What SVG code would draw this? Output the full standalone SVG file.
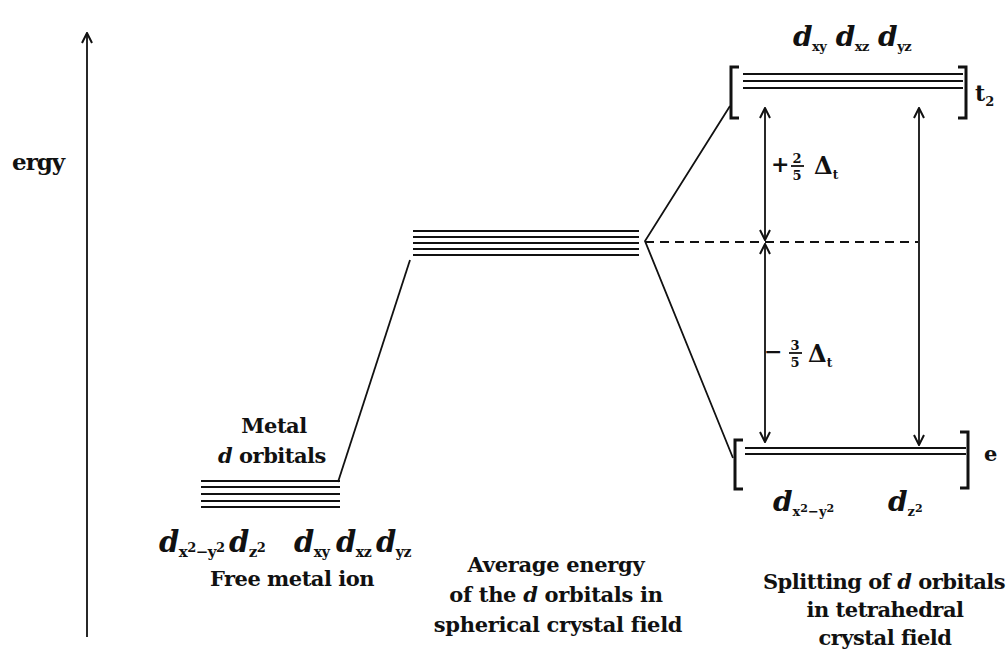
<svg xmlns="http://www.w3.org/2000/svg" width="1007" height="661" viewBox="0 0 1007 661">
<defs>
<marker id="ah" viewBox="0 0 12 12" refX="11" refY="6" markerWidth="12" markerHeight="12" markerUnits="userSpaceOnUse" orient="auto-start-reverse">
<path d="M1,1 L11,6 L1,11" fill="none" stroke="#111" stroke-width="2"/>
</marker>
</defs>
<style>
.t{font-family:"DejaVu Serif","Liberation Serif",serif;font-weight:bold;fill:#111}
.i{font-style:italic}
.lv{stroke:#111;stroke-width:2;fill:none}
.ln{stroke:#111;stroke-width:1.8;fill:none}
.br{stroke:#111;stroke-width:3;fill:none}
</style>
<rect width="1007" height="661" fill="#fff"/>

<g id="axis">
<line class="ln" x1="87" y1="637" x2="87" y2="33" marker-end="url(#ah)"/>
<text class="t" x="12" y="170" font-size="23" letter-spacing="-1">ergy</text>
</g>

<g id="free-ion">
<line class="lv" x1="201" y1="481" x2="340" y2="481"/>
<line class="lv" x1="201" y1="487" x2="340" y2="487"/>
<line class="lv" x1="201" y1="494" x2="340" y2="494"/>
<line class="lv" x1="201" y1="501" x2="340" y2="501"/>
<line class="lv" x1="201" y1="507" x2="340" y2="507"/>
<text class="t" x="274" y="433" font-size="21" text-anchor="middle" letter-spacing="-0.5">Metal</text>
<text class="t" x="272" y="463" font-size="21" text-anchor="middle" letter-spacing="-0.5"><tspan class="i">d</tspan> orbitals</text>
<text class="t" x="159" y="552" font-size="29" letter-spacing="-0.5"><tspan class="i">d</tspan><tspan font-size="15" dy="5">x</tspan><tspan font-size="13" dy="-5">2</tspan><tspan font-size="15" dy="5">−y</tspan><tspan font-size="13" dy="-5">2</tspan></text>
<text class="t" x="229" y="552" font-size="29" letter-spacing="-0.5"><tspan class="i">d</tspan><tspan font-size="15" dy="5">z</tspan><tspan font-size="13" dy="-5">2</tspan></text>
<text class="t" x="294" y="552" font-size="29" letter-spacing="-0.5"><tspan class="i">d</tspan><tspan font-size="14" dy="5">xy</tspan></text>
<text class="t" x="336" y="552" font-size="29" letter-spacing="-0.5"><tspan class="i">d</tspan><tspan font-size="14" dy="5">xz</tspan></text>
<text class="t" x="376" y="552" font-size="29" letter-spacing="-0.5"><tspan class="i">d</tspan><tspan font-size="14" dy="5">yz</tspan></text>
<text class="t" x="292" y="586" font-size="21" text-anchor="middle" letter-spacing="-0.5">Free metal ion</text>
</g>

<g id="average">
<line class="lv" x1="413" y1="231" x2="639" y2="231"/>
<line class="lv" x1="413" y1="237" x2="639" y2="237"/>
<line class="lv" x1="413" y1="243" x2="639" y2="243"/>
<line class="lv" x1="413" y1="249" x2="639" y2="249"/>
<line class="lv" x1="413" y1="255" x2="639" y2="255"/>
<text class="t" x="556" y="572" font-size="21" text-anchor="middle" letter-spacing="-0.3">Average energy</text>
<text class="t" x="556" y="602" font-size="21" text-anchor="middle" letter-spacing="-0.3">of the <tspan class="i">d</tspan> orbitals in</text>
<text class="t" x="558" y="632" font-size="21" text-anchor="middle" letter-spacing="-0.3">spherical crystal field</text>
</g>

<g id="t2-level">
<path class="br" d="M739,67 H731 V118 H739"/>
<path class="br" d="M958,67 H966 V118 H958"/>
<line class="lv" x1="743" y1="74" x2="963" y2="74"/>
<line class="lv" x1="743" y1="81" x2="963" y2="81"/>
<line class="lv" x1="743" y1="88" x2="963" y2="88"/>
<text class="t" x="793" y="46" font-size="28" letter-spacing="-0.5"><tspan class="i">d</tspan><tspan font-size="13" dy="5">xy</tspan><tspan class="i" dy="-5"> d</tspan><tspan font-size="13" dy="5">xz</tspan><tspan class="i" dy="-5"> d</tspan><tspan font-size="13" dy="5">yz</tspan></text>
<text class="t" x="975" y="101" font-size="22">t<tspan font-size="13" dy="5">2</tspan></text>
</g>

<g id="e-level">
<path class="br" d="M743,440 H735 V489 H743"/>
<path class="br" d="M960,432 H968 V488 H960"/>
<line class="lv" x1="745" y1="448" x2="966" y2="448"/>
<line class="lv" x1="745" y1="454" x2="966" y2="454"/>
<text class="t" x="984" y="461" font-size="21">e</text>
<text class="t" x="773" y="511" font-size="28"><tspan class="i">d</tspan><tspan font-size="13" dy="5">x</tspan><tspan font-size="11" dy="-4">2</tspan><tspan font-size="13" dy="4">−y</tspan><tspan font-size="11" dy="-4">2</tspan></text>
<text class="t" x="888" y="511" font-size="28"><tspan class="i">d</tspan><tspan font-size="13" dy="5">z</tspan><tspan font-size="11" dy="-4">2</tspan></text>
</g>

<g id="labels">
<text class="t" x="771" y="172" font-size="22">+</text>
<text class="t" x="797" y="163" font-size="13" text-anchor="middle">2</text>
<line class="ln" x1="791" y1="166" x2="804" y2="166" stroke-width="1"/>
<text class="t" x="797" y="180" font-size="13" text-anchor="middle">5</text>
<text class="t" x="814" y="174" font-size="24">Δ<tspan font-size="12" dy="5">t</tspan></text>
<text class="t" x="764" y="359" font-size="22">−</text>
<text class="t" x="795" y="350" font-size="13" text-anchor="middle">3</text>
<line class="ln" x1="789" y1="353" x2="802" y2="353" stroke-width="1"/>
<text class="t" x="795" y="367" font-size="13" text-anchor="middle">5</text>
<text class="t" x="808" y="362" font-size="24">Δ<tspan font-size="12" dy="5">t</tspan></text>
<text class="t" x="884" y="589" font-size="21" text-anchor="middle" letter-spacing="-0.5">Splitting of <tspan class="i">d</tspan> orbitals</text>
<text class="t" x="885" y="617" font-size="21" text-anchor="middle" letter-spacing="-0.5">in tetrahedral</text>
<text class="t" x="885" y="645" font-size="21" text-anchor="middle" letter-spacing="-0.5">crystal field</text>
</g>

<g id="connectors">
<line class="ln" x1="338" y1="482" x2="410" y2="260"/>
<polyline class="ln" points="730,106 645,241 733,458"/>
<line class="ln" x1="645" y1="242" x2="918" y2="242" stroke-dasharray="9,6"/>
<line class="ln" x1="765" y1="108" x2="765" y2="240" marker-start="url(#ah)" marker-end="url(#ah)"/>
<line class="ln" x1="765" y1="244" x2="765" y2="442" marker-start="url(#ah)" marker-end="url(#ah)"/>
<line class="ln" x1="919" y1="108" x2="919" y2="445" marker-start="url(#ah)" marker-end="url(#ah)"/>
</g>
</svg>
